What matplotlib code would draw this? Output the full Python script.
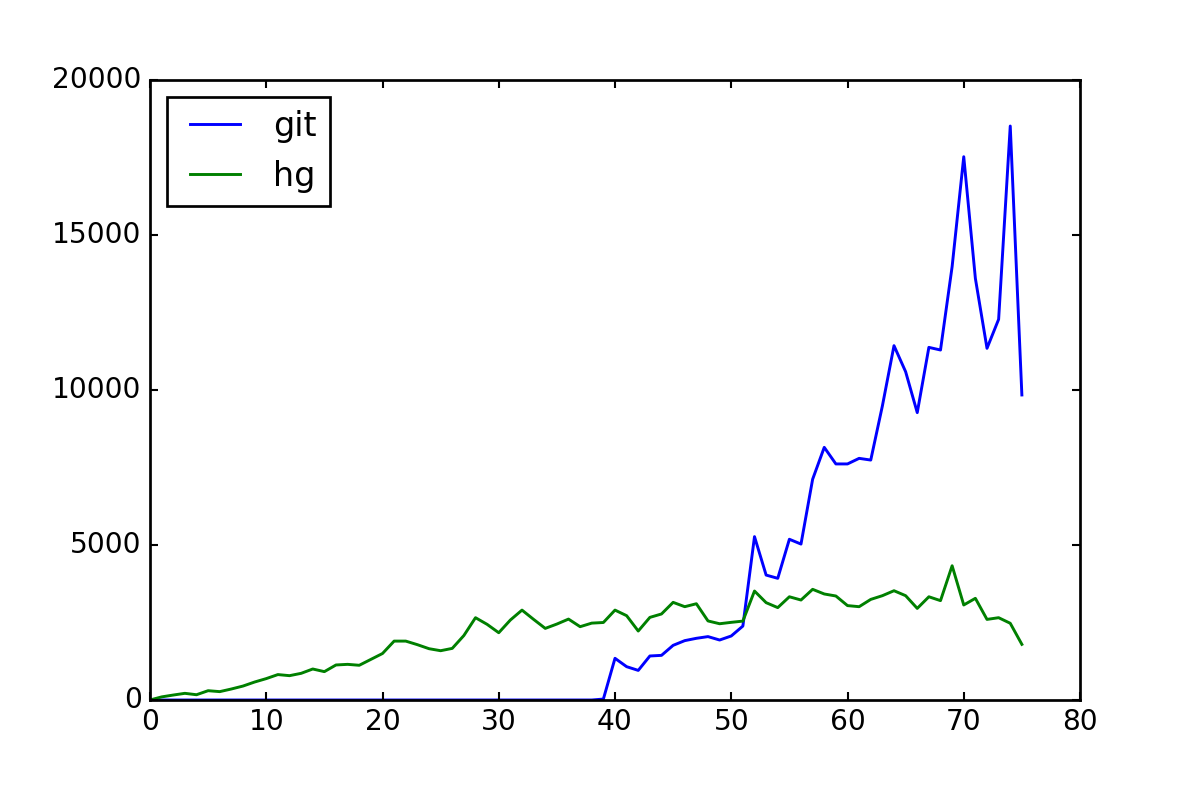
import matplotlib
matplotlib.use("Agg")
import matplotlib.pyplot as plt
import numpy as np

plt.style.use("classic")

# commits per period
git = [0] * 39 + [30,
       1345, 1075, 955, 1420, 1440, 1763, 1915, 1990, 2045, 1935,
       2065, 2385, 5270, 4030, 3925, 5185, 5030, 7120, 8150, 7615,
       7615, 7795, 7740, 9485, 11430, 10590, 9270, 11375, 11290, 13980,
       17525, 13600, 11345, 12280, 18515, 9840]
hg = [0, 100, 160, 215, 170, 300, 270, 355, 450, 580,
      690, 820, 785, 860, 1000, 915, 1130, 1150, 1120, 1310,
      1500, 1900, 1900, 1785, 1655, 1590, 1665, 2080, 2655, 2440,
      2170, 2580, 2900, 2600, 2310, 2450, 2610, 2365, 2480, 2500,
      2900, 2720, 2225, 2665, 2775, 3150, 3010, 3105, 2550, 2460,
      2505, 2545, 3515, 3140, 2980, 3330, 3225, 3570, 3420, 3355,
      3045, 3010, 3245, 3365, 3525, 3365, 2955, 3330, 3205, 4330,
      3065, 3280, 2600, 2655, 2475, 1795]

plt.rcParams["axes.linewidth"] = 1.3
plt.rcParams["xtick.major.width"] = 1.0
plt.rcParams["ytick.major.width"] = 1.0

fig = plt.figure(figsize=(8, 16 / 3.0), dpi=150)
fig.subplots_adjust(left=0.125, right=0.9, bottom=0.125, top=0.9)
ax = fig.add_subplot(111)
ax.plot(np.arange(len(git)), git, "b-", lw=1.4, label="git")
ax.plot(np.arange(len(hg)), hg, "g-", lw=1.4, label="hg")
ax.set_xlim(0, 80)
ax.set_ylim(0, 20000)
ax.tick_params(labelsize=13.5)
leg = ax.legend(loc="upper left", prop={"size": 16}, handlelength=2.1,
                handletextpad=0.7)
leg.get_frame().set_linewidth(1.3)

fig.savefig("out.png", dpi=150)
